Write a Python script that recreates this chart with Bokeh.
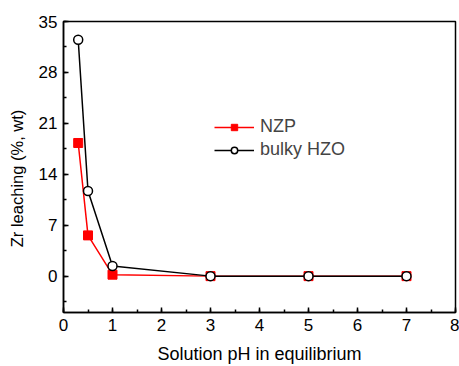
from bokeh.plotting import figure
from bokeh.models import Range1d, FixedTicker, Legend, LegendItem
from bokeh.embed import file_html
from bokeh.resources import INLINE

ph_nzp = [0.3, 0.5, 1, 3, 5, 7]
zr_nzp = [18.3, 5.6, 0.2, 0.0, 0.0, 0.0]
ph_hzo = [0.3, 0.5, 1, 3, 5, 7]
zr_hzo = [32.5, 11.7, 1.4, 0.0, 0.0, 0.0]
x_ticks = [0, 1, 2, 3, 4, 5, 6, 7, 8]
y_ticks = [0, 7, 14, 21, 28, 35]

FONT = "Liberation Sans"

p = figure(width=459, height=366, output_backend="svg", toolbar_location=None,
           x_range=Range1d(0, 8), y_range=Range1d(-5, 35),
           min_border_left=63, min_border_right=4, min_border_top=21, min_border_bottom=54)
p.background_fill_color = "white"
p.border_fill_color = "white"
p.outline_line_color = "black"
p.outline_line_width = 1.5
p.xgrid.visible = False
p.ygrid.visible = False

p.xaxis.ticker = FixedTicker(ticks=x_ticks, minor_ticks=[i * 0.5 for i in range(17)])
p.yaxis.ticker = FixedTicker(ticks=y_ticks, minor_ticks=[i * 3.5 - 3.5 for i in range(12)])
for ax in (p.xaxis, p.yaxis):
    ax.major_tick_in = 5
    ax.major_tick_out = 0
    ax.minor_tick_in = 3
    ax.minor_tick_out = 0
    ax.axis_line_width = 1.5
    ax.major_tick_line_width = 1.5
    ax.minor_tick_line_width = 1.5
    ax.major_label_text_font = FONT
    ax.major_label_text_font_size = "17px"
    ax.major_label_text_color = "black"
    ax.axis_label_text_font = FONT
    ax.axis_label_text_font_size = "18px"
    ax.axis_label_text_font_style = "normal"
    ax.axis_label_text_color = "black"
p.xaxis.axis_label = "Solution pH in equilibrium"
# trailing no-break spaces shift the rotated label slightly downward, as in the reference
p.yaxis.axis_label = "Zr leaching (%, wt)" + "\u00a0" * 5
p.yaxis.axis_label_text_font_size = "16.5px"
p.xaxis.major_label_standoff = 6
p.yaxis.major_label_standoff = 6
p.xaxis.axis_label_standoff = 10
p.yaxis.axis_label_standoff = 10

l1 = p.line(ph_nzp, zr_nzp, line_color="red", line_width=1.5)
m1 = p.scatter(ph_nzp, zr_nzp, marker="square", size=9, fill_color="red", line_color="red")
l2 = p.line(ph_hzo, zr_hzo, line_color="black", line_width=1.5)
m2 = p.scatter(ph_hzo, zr_hzo, marker="circle", size=9, fill_color="white", line_color="black", line_width=1.5)

legend = Legend(items=[LegendItem(label="NZP", renderers=[l1, m1]),
                       LegendItem(label="bulky HZO", renderers=[l2, m2])],
                location=(151, 152), glyph_width=40, glyph_height=16,
                label_text_font=FONT, label_text_font_size="18px",
                border_line_color=None, background_fill_alpha=0,
                spacing=2, padding=4, label_standoff=6)
p.add_layout(legend)

open("out.html", "w").write(file_html(p, INLINE))
